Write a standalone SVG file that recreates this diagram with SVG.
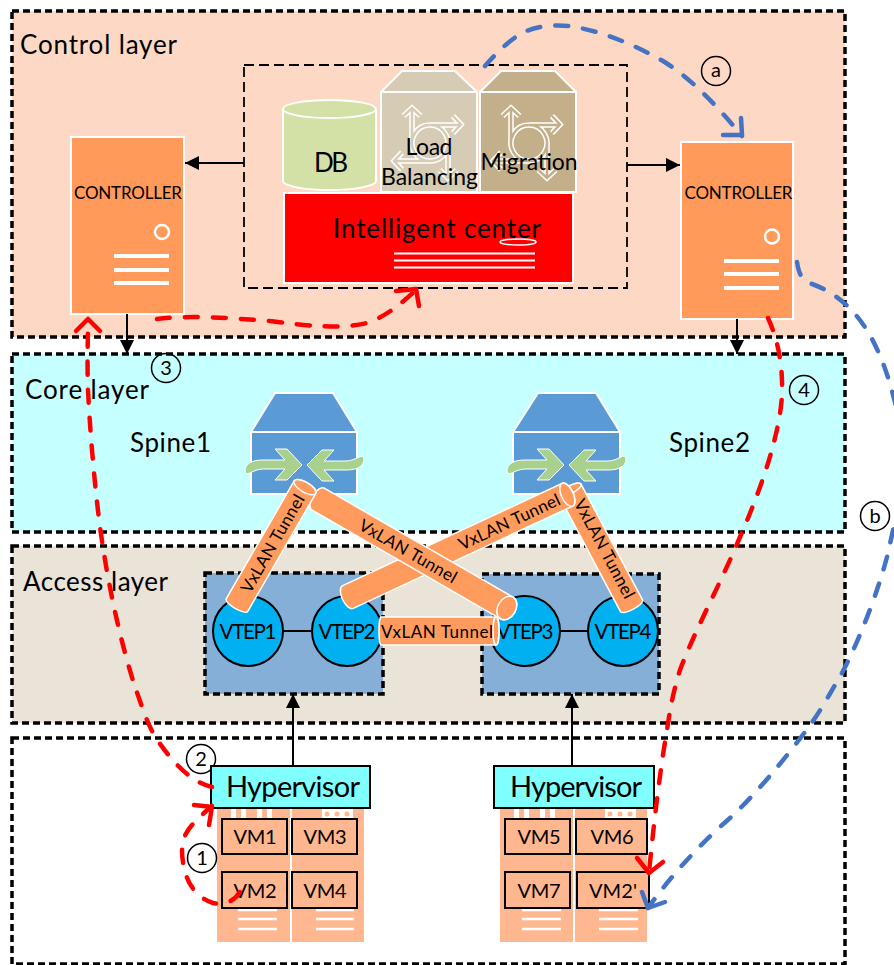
<svg xmlns="http://www.w3.org/2000/svg" xmlns:xlink="http://www.w3.org/1999/xlink" width="894" height="965" viewBox="0 0 894 965">
<style>
text{font-family:Lato,"Liberation Sans",sans-serif;fill:#000;text-anchor:middle}
.layer{stroke:#000;stroke-width:3.5;stroke-dasharray:7 4}
.lt{font-size:26px}
.sp{font-size:26px}
.w{fill:#fff}
.wl{stroke:#fff;stroke-width:2.5;fill:none}
.ctrl{fill:#FF9A5B;stroke:#fff;stroke-width:2}
.ctxt{font-size:17px}
.sw{stroke:#fff;stroke-width:2}
.vt{fill:#00B0F0;stroke:#000;stroke-width:2}
.vtxt{font-size:20.500px}
.tb{fill:#FF9B5C;stroke:#fff;stroke-width:1.500}
.ttxt{font-size:17px}
.hv{fill:#80FFFF;stroke:#000;stroke-width:2}
.htxt{font-size:29px}
.srv{fill:#FFB78F}
.vm{fill:#FFB78F;stroke:#000;stroke-width:2}
.vmt{font-size:20px}
.num{fill:none;stroke:#000;stroke-width:1.500}
.numt{font-size:20px}
.blk{stroke:#000;stroke-width:2;fill:none}
.red{stroke:#f00;stroke-width:4.500;fill:none;stroke-linecap:round;stroke-dasharray:13 15}
.blu{stroke:#4472C4;stroke-width:4.500;fill:none;stroke-linecap:round;stroke-dasharray:13 15}
.redh{stroke:#f00;stroke-width:4.500;fill:none;stroke-linecap:round;stroke-linejoin:round}
.bluh{stroke:#4472C4;stroke-width:4.500;fill:none;stroke-linecap:round;stroke-linejoin:round}
</style>
<defs>
<marker id="ah" markerUnits="userSpaceOnUse" markerWidth="14" markerHeight="14" refX="14" refY="7" orient="auto"><path d="M0,0L14,7L0,14Z" fill="#000"/></marker>
<path id="rt" fill="none" d="M430,125A18,18 0 1 1 429.900,125M430,125H461M453,116L461,124.500L453,133M412,143V108M403.500,116L412,108L420.500,116M430,161H394M402,152.500L394,161L402,169.500M448,143V178M439.500,170L448,178L456.500,170"/>
<g id="swa"><path fill="#A9D18E" stroke="#fff" stroke-width="1" d="M245,471C245,463 253,460 263,460H285L275,449H287L302,465L287,480H275L285,469H263C253,469 246,478 245,471Z"/><path fill="#A9D18E" stroke="#fff" stroke-width="1" d="M364,459C364,467 356,470 346,470H324L334,481H322L307,465L322,450H334L324,461H346C356,461 363,452 364,459Z"/></g>
</defs>
<rect width="894" height="965" fill="#fff"/>
<g id="layers">
<rect id="control-layer" class="layer" x="12" y="11" width="833" height="326" fill="#FDD9C5"/>
<rect id="core-layer" class="layer" x="12" y="354" width="833" height="178" fill="#C6FFFF"/>
<rect id="access-layer" class="layer" x="12" y="546" width="833" height="177" fill="#E9E3D8"/>
<rect id="host-layer" class="layer" x="12" y="738" width="833" height="226" fill="#fff"/>
<text class="lt" x="98.500" y="54" textLength="157">Control layer</text>
<text class="lt" x="87" y="399" textLength="124">Core layer</text>
<text class="lt" x="95.500" y="591" textLength="145">Access layer</text>
<text class="sp" x="170.500" y="452" textLength="81">Spine1</text>
<text class="sp" x="709.500" y="452" textLength="81">Spine2</text>
</g>
<g id="intelligent-center">
<rect x="244" y="65" width="383" height="223" fill="none" stroke="#000" stroke-width="1.800" stroke-dasharray="10 5"/>
<g id="db"><path d="M283,109A46.500,9 0 0 1 376,109V181C376,186 355,190 329.500,190S283,186 283,181Z" fill="#D3E0A6" stroke="#fff" stroke-width="2"/><path d="M283,109A46.500,9 0 0 0 376,109" fill="none" stroke="#fff" stroke-width="2"/><text x="331" y="172" font-size="26" textLength="34">DB</text></g>
<g id="load-balancing"><path d="M402,71H455L477,92V192H381V92Z" fill="#D6CCB5" stroke="#fff" stroke-width="2"/><path d="M381,92H477" stroke="#fff" stroke-width="2"/><use xlink:href="#rt" href="#rt" stroke="#fff" stroke-width="5.500"/><use xlink:href="#rt" href="#rt" stroke="#D6CCB5" stroke-width="2.500"/><text x="429" y="155" font-size="23" textLength="47">Load</text><text x="429.500" y="185" font-size="23" textLength="97">Balancing</text></g>
<g id="migration"><path d="M501,71H555L576,92V192H480V92Z" fill="#C4AF8B" stroke="#fff" stroke-width="2"/><path d="M480,92H576" stroke="#fff" stroke-width="2"/><g transform="translate(99,0)"><use xlink:href="#rt" href="#rt" stroke="#fff" stroke-width="5.500"/><use xlink:href="#rt" href="#rt" stroke="#C4AF8B" stroke-width="2.500"/></g><text x="529" y="170" font-size="23" textLength="97">Migration</text></g>
<g id="center-server"><rect x="284" y="193" width="289" height="90" fill="#f00" stroke="#fff" stroke-width="2"/><ellipse cx="518" cy="242" rx="18" ry="3" fill="none" stroke="#fff" stroke-width="1.500"/><path stroke="#fff" stroke-width="2" fill="none" d="M394,253.500H535M394,260.500H535M394,267.500H535"/><text x="437" y="238" font-size="26" textLength="208">Intelligent center</text></g>
</g>
<g id="controller-left"><rect class="ctrl" x="71" y="137" width="113" height="177"/><circle class="wl" cx="162" cy="232" r="7"/><path stroke="#fff" stroke-width="4" d="M114,256H169M114,270H169M114,283H169"/><text class="ctxt" x="128" y="199" textLength="108">CONTROLLER</text></g>
<g id="controller-right"><rect class="ctrl" x="681" y="142" width="112" height="177"/><circle class="wl" cx="772" cy="236.500" r="7"/><path stroke="#fff" stroke-width="4" d="M724,261H779M724,274H779M724,288H779"/><text class="ctxt" x="738.500" y="199" textLength="108">CONTROLLER</text></g>
<g id="spine1"><path class="sw" fill="#5B9BD5" d="M275,393H333L357,432V494H251V432Z"/><path class="sw" d="M251,432H357"/><use xlink:href="#swa" href="#swa"/></g>
<g id="spine2"><path class="sw" fill="#5B9BD5" d="M538,393H596L620,432V494H513V432Z"/><path class="sw" d="M513,432H620"/><use xlink:href="#swa" href="#swa" transform="translate(262,0)"/></g>
<g id="vtep-group-left"><rect class="layer" x="205" y="573" width="178" height="121" fill="#85AFD6"/><path class="blk" d="M283,631H312"/>
<g id="vtep1"><circle class="vt" cx="248" cy="631" r="35"/><text class="vtxt" x="248" y="639" textLength="57">VTEP1</text></g>
<g id="vtep2"><circle class="vt" cx="347" cy="631" r="35"/><text class="vtxt" x="347" y="639" textLength="57">VTEP2</text></g></g>
<g id="vtep-group-right"><rect class="layer" x="482" y="574" width="177" height="120" fill="#85AFD6"/><path class="blk" d="M560,631H588"/>
<g id="vtep3"><circle class="vt" cx="525" cy="631" r="35"/><text class="vtxt" x="525" y="639" textLength="57">VTEP3</text></g>
<g id="vtep4"><circle class="vt" cx="623" cy="631" r="35"/><text class="vtxt" x="623" y="639" textLength="57">VTEP4</text></g></g>
<g id="tunnels">
<g id="tunnel-h" transform="translate(381,631)"><path class="tb" d="M0,-14A2,14 0 0 0 0,14H115A3,14 0 0 0 115,-14Z"/><ellipse class="tb" cx="115" cy="0" rx="3" ry="14"/><text class="ttxt" x="56" y="7" textLength="112">VxLAN Tunnel</text></g>
<g id="tunnel-4" transform="translate(570,490) rotate(62)"><path class="tb" d="M0,-12.500A4,12.500 0 0 0 0,12.500H131A4,12.500 0 0 0 131,-12.500Z"/><ellipse class="tb" cx="0" cy="0" rx="4" ry="12.500"/><text class="ttxt" x="68" y="3" textLength="110">VxLAN Tunnel</text></g>
<g id="tunnel-3" transform="translate(348,597) rotate(-25)"><path class="tb" d="M0,-12.500A6,12.500 0 0 0 0,12.500H242A6,12.500 0 0 0 242,-12.500Z"/><ellipse class="tb" cx="242" cy="0" rx="6" ry="12.500"/><text class="ttxt" x="178" y="6" textLength="110">VxLAN Tunnel</text></g>
<g id="tunnel-2" transform="translate(318,499) rotate(30)"><path class="tb" d="M0,-12.500A6,12.500 0 0 0 0,12.500H218A9,12.500 0 0 0 218,-12.500Z"/><ellipse class="tb" cx="218" cy="0" rx="9" ry="12.500"/><text class="ttxt" x="104" y="6" textLength="110">VxLAN Tunnel</text></g>
<g id="tunnel-1" transform="translate(237,605) rotate(-60)"><path class="tb" d="M0,-12.500A4,12.500 0 0 0 0,12.500H136A5,12.500 0 0 0 136,-12.500Z"/><ellipse class="tb" cx="136" cy="0" rx="5" ry="12.500"/><text class="ttxt" x="71" y="6" textLength="110">VxLAN Tunnel</text></g>
</g>
<g id="host-left">
<circle class="num" cx="201" cy="759" r="14.500"/><text class="numt" x="201" y="766">2</text>
<rect class="srv" x="217" y="808" width="147" height="134"/><path d="M291,808V942" stroke="#fff" stroke-width="2"/>
<path class="w" d="M231,808h5v12h-5zM241,808h5v12h-5zM257,808h5v12h-5zM267,808h5v12h-5zM322,808h31v11h-31z"/>
<g fill="#FFB78F"><circle cx="327" cy="814" r="2.500"/><circle cx="337" cy="814" r="2.500"/><circle cx="347" cy="814" r="2.500"/></g>
<path stroke="#fff" stroke-width="2.500" d="M238,910H277M238,919H277M238,929H277M316,910H354M316,919H354M316,929H354"/>
<rect class="hv" x="211" y="766" width="159" height="42"/><text class="htxt" x="293" y="797" textLength="134">Hypervisor</text>
<g id="vm1"><rect class="vm" x="222" y="819" width="65" height="35"/><text class="vmt" x="255" y="844" textLength="43">VM1</text></g>
<g id="vm3"><rect class="vm" x="292" y="819" width="65" height="35"/><text class="vmt" x="325" y="844" textLength="43">VM3</text></g>
<g id="vm2"><rect class="vm" x="222" y="872" width="65" height="36"/><text class="vmt" x="255" y="898" textLength="43">VM2</text></g>
<g id="vm4"><rect class="vm" x="292" y="872" width="65" height="36"/><text class="vmt" x="325" y="898" textLength="43">VM4</text></g>
<circle class="num" cx="202" cy="858" r="14.500"/><text class="numt" x="202" y="865">1</text>
</g>
<g id="host-right">
<rect class="srv" x="500" y="808" width="147" height="134"/><path d="M574,808V942" stroke="#fff" stroke-width="2"/>
<path class="w" d="M514,808h5v12h-5zM524,808h5v12h-5zM540,808h5v12h-5zM550,808h5v12h-5zM605,808h31v11h-31z"/>
<g fill="#FFB78F"><circle cx="610" cy="814" r="2.500"/><circle cx="620" cy="814" r="2.500"/><circle cx="630" cy="814" r="2.500"/></g>
<path stroke="#fff" stroke-width="2.500" d="M522,910H561M522,919H561M522,929H561M599,910H638M599,919H638M599,929H638"/>
<rect class="hv" x="494" y="766" width="160" height="42"/><text class="htxt" x="576" y="797" textLength="132">Hypervisor</text>
<g id="vm5"><rect class="vm" x="505" y="819" width="65" height="35"/><text class="vmt" x="539" y="844" textLength="43">VM5</text></g>
<g id="vm6"><rect class="vm" x="576" y="819" width="71" height="35"/><text class="vmt" x="612" y="844" textLength="43">VM6</text></g>
<g id="vm7"><rect class="vm" x="505" y="872" width="65" height="36"/><text class="vmt" x="539" y="898" textLength="43">VM7</text></g>
<g id="vm2p"><rect class="vm" x="577" y="872" width="72" height="36"/><text class="vmt" x="613" y="898" textLength="48">VM2'</text></g>
</g>
<g id="markers">
<circle class="num" cx="166" cy="368" r="14.500"/><text class="numt" x="166" y="375">3</text>
<circle class="num" cx="804" cy="390" r="14.500"/><text class="numt" x="804" y="397">4</text>
<circle class="num" cx="716" cy="71" r="14.500"/><text class="numt" x="716" y="77">a</text>
<circle class="num" cx="875" cy="516" r="14.500"/><text class="numt" x="875" y="523">b</text>
</g>
<g id="connectors">
<path class="blk" marker-end="url(#ah)" d="M244,163H185"/>
<path class="blk" marker-end="url(#ah)" d="M627,165H680"/>
<path class="blk" marker-end="url(#ah)" d="M127,314V354"/>
<path class="blk" marker-end="url(#ah)" d="M737,319V354"/>
<path class="blk" marker-end="url(#ah)" d="M293,766V694"/>
<path class="blk" marker-end="url(#ah)" d="M572,766V694"/>
<path class="red" d="M157,319C190,315 230,318 270,321C310,326 345,330 370,322C390,314 405,300 416,290"/>
<path class="redh" d="M396,291L416,289L419,306"/>
<path class="red" d="M212,787C192,783 172,762 156,738C146,722 140,700 135,687C120,640 108,585 100,527C94,480 90,430 88,390C87,360 88,340 88,320"/>
<path class="redh" d="M76,331L88,319L100,331"/>
<path class="red" d="M240,892C233,903 222,905 213,903C200,899 190,888 186,875C181,858 180,842 187,832C193,822 203,814 212,806"/>
<path class="redh" d="M194,805L212,807L209,825"/>
<path class="red" d="M768,318C778,340 783,365 782,395C780,430 765,480 740,537C720,585 695,630 680,670C673,692 670,710 667,730C660,770 653,830 649,873"/>
<path class="redh" d="M637,858L649,873L663,862"/>
<path class="blu" d="M485,66C497,52 510,40 522,33C540,24 565,24 580,28C610,34 640,48 663,61C690,78 712,100 742,136"/>
<path class="bluh" d="M741,118L742,135L723,135"/>
<path class="blu" d="M797,262C799,275 802,280 812,284C835,292 855,310 868,332C880,352 888,375 893,395C900,420 905,440 903,470C901,500 895,520 888,553C880,585 862,635 842,673C832,690 820,712 810,725C785,760 750,800 730,818C705,840 675,870 648,908"/>
<path class="bluh" d="M642,892L648,908L665,902"/>
</g>
</svg>
